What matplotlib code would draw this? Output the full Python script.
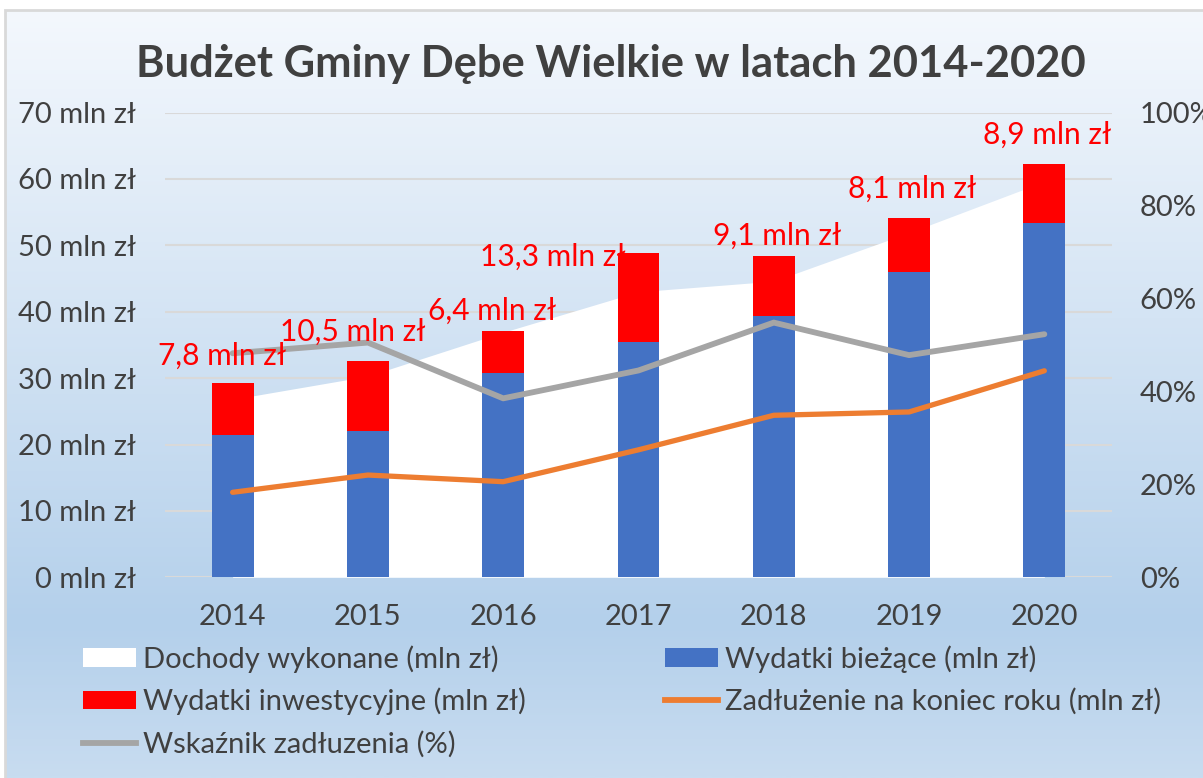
import numpy as np
import matplotlib.pyplot as plt
from matplotlib.colors import LinearSegmentedColormap
from matplotlib.patches import Rectangle, Patch
from matplotlib.lines import Line2D
from matplotlib.ticker import FuncFormatter, PercentFormatter

plt.rcParams['font.family'] = ['Lato', 'DejaVu Sans']

# dane (mln zł, %)
years = ['2014', '2015', '2016', '2017', '2018', '2019', '2020']
dochody = [26.8, 30.3, 36.9, 43.0, 44.6, 51.9, 59.6]
biezace = [21.5, 22.0, 30.7, 35.5, 39.3, 46.0, 53.4]
inwestycyjne = [7.8, 10.5, 6.4, 13.3, 9.1, 8.1, 8.9]
zadluzenie = [12.8, 15.4, 14.4, 19.2, 24.4, 24.9, 31.1]
wskaznik = [48.2, 50.5, 38.5, 44.5, 54.8, 47.8, 52.3]

# przesuniecia etykiet (px) wzgledem szczytu slupka
label_dx = [-11, -15, -11, -86, 3, 3, 3]
label_dy = [18, 21, 11, -13, 11, 20, 20]

text_col = '#404040'
W, H = 1203, 778
fs = 21

fig = plt.figure(figsize=(W / 100, H / 100), dpi=100)
fig.patch.set_facecolor('white')

# tlo z gradientem
bg = fig.add_axes([6 / W, 0, 1 - 6 / W, (H - 11) / H])
cmap = LinearSegmentedColormap.from_list(
    'bg', [(0, '#f4f8fd'), (0.8, '#b4d0eb'), (1, '#c8dcf0')])
bg.imshow(np.linspace(0, 1, 256).reshape(-1, 1), aspect='auto', cmap=cmap,
          extent=[0, 1, 1, 0])
bg.set_axis_off()
fig.patches.append(Rectangle((5 / W, -0.01), 1.0, (H - 10) / H + 0.01,
                             transform=fig.transFigure, fill=False,
                             edgecolor='#d9d9d9', lw=2))

ax = fig.add_axes([165 / W, 1 - 577.3 / H, (1112 - 165) / W, (577.3 - 112.5) / H])
ax.set_facecolor('none')
x = np.arange(len(years))

ax.fill_between(x, dochody, color='white', lw=0, zorder=1)
ax.bar(x, biezace, width=0.31, color='#4472c4', zorder=2)
ax.bar(x, inwestycyjne, width=0.31, bottom=biezace, color='#ff0000', zorder=2)
ax.plot(x, zadluzenie, color='#ed7d31', lw=3.8, solid_capstyle='round', zorder=3)

ax.set_xlim(-0.5, len(years) - 0.5)
ax.set_ylim(0, 70)
ax.set_yticks(range(0, 71, 10))
ax.yaxis.set_major_formatter(FuncFormatter(lambda v, p: f'{v:.0f} mln zł'))
ax.set_xticks(x)
ax.set_xticklabels(years)
ax.yaxis.grid(True, color='#d9d9d9', lw=1.5)
ax.set_axisbelow(True)
ax.tick_params(length=0, labelsize=fs, labelcolor=text_col)
ax.tick_params(axis='y', pad=21)
ax.tick_params(axis='x', pad=19)
for s in ax.spines.values():
    s.set_visible(False)

ax2 = ax.twinx()
ax2.plot(x, wskaznik, color='#a5a5a5', lw=4.2, solid_capstyle='round')
ax2.set_ylim(0, 100)
ax2.set_yticks(range(0, 101, 20))
ax2.yaxis.set_major_formatter(PercentFormatter(decimals=0))
ax2.tick_params(length=0, labelsize=fs, labelcolor=text_col, pad=20)
for s in ax2.spines.values():
    s.set_visible(False)

# etykiety wydatkow inwestycyjnych (nad liniami)
for i in range(len(years)):
    top = biezace[i] + inwestycyjne[i]
    txt = f'{inwestycyjne[i]:.1f}'.replace('.', ',') + ' mln zł'
    ax2.annotate(txt, (x[i], top), xycoords=ax.transData,
                 xytext=(label_dx[i], label_dy[i]), textcoords='offset pixels',
                 ha='center', va='baseline', color='#ff0000', fontsize=21.5)

fig.text(611 / W, 1 - 64 / H, 'Budżet Gminy Dębe Wielkie w latach 2014-2020',
         ha='center', va='center', fontsize=31.3, fontweight='bold', color=text_col)

# legenda w dwoch kolumnach
h1 = [Patch(facecolor='white'), Patch(facecolor='#ff0000'),
      Line2D([], [], color='#a5a5a5', lw=4.2)]
l1 = ['Dochody wykonane (mln zł)', 'Wydatki inwestycyjne (mln zł)', 'Wskaźnik zadłuzenia (%)']
h2 = [Patch(facecolor='#4472c4'), Line2D([], [], color='#ed7d31', lw=4.2)]
l2 = ['Wydatki bieżące (mln zł)', 'Zadłużenie na koniec roku (mln zł)']
for hs, ls, x0 in [(h1, l1, 83), (h2, l2, 665)]:
    fig.legend(hs, ls, loc='upper left', bbox_to_anchor=(x0 / W, 1 - 645 / H),
               frameon=False, fontsize=fs, labelcolor=text_col, borderpad=0,
               borderaxespad=0, handlelength=1.8, handletextpad=0.27,
               handleheight=0.6, labelspacing=0.52)

fig.savefig('out.png', dpi=100)
